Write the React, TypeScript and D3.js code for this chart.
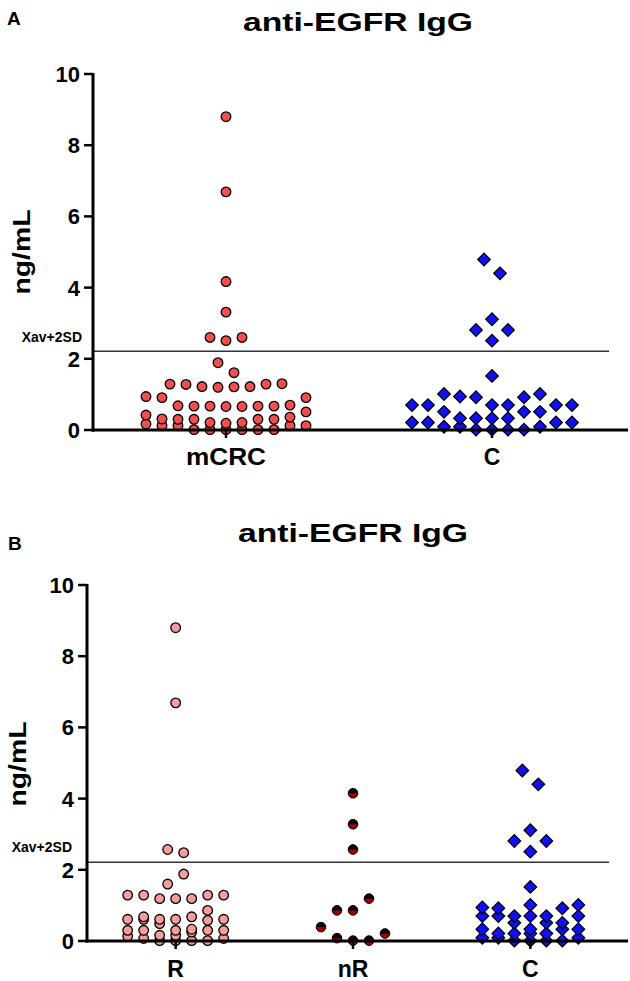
import React from 'react';
import * as d3 from 'd3';

// ---------- data ----------
const titleText = 'anti-EGFR IgG';
const yLabel = 'ng/mL';
const thresholdLabel = 'Xav+2SD';
const thresholdValue = 2.21;
const yTicks = [0, 2, 4, 6, 8, 10];
const panelACategories = ['mCRC', 'C'];
const panelBCategories = ['R', 'nR', 'C'];

const mcrcValues = [
  8.8, 6.69, 4.17, 3.31, 2.6, 2.6, 2.51, 1.89, 1.61,
  1.29, 1.3, 1.28, 1.29, 1.22, 1.21, 1.22, 1.2,
  0.94, 0.91, 0.91,
  0.7, 0.67, 0.66, 0.67, 0.67, 0.66, 0.67, 0.68,
  0.51, 0.42, 0.36,
  0.3, 0.3, 0.3, 0.31, 0.3,
  0.21, 0.21, 0.19, 0.17,
  0.12, 0.12, 0.12, 0.12,
  0.01, 0.01, 0.01, 0.01, 0.01, 0.01,
];

const controlValues = [
  4.79, 4.4, 3.11, 2.81, 2.81, 2.51, 1.52, 1.01, 1.01, 0.94, 0.92, 0.92,
  0.7, 0.7, 0.7, 0.7, 0.7, 0.7,
  0.51, 0.51, 0.51,
  0.33, 0.33, 0.33, 0.33,
  0.21, 0.21, 0.21, 0.21,
  0.09, 0.09, 0.09,
  0.01, 0.01, 0.01, 0.01,
];

const responderValues = [
  8.8, 6.69, 2.57, 2.48, 1.88, 1.6,
  1.29, 1.29, 1.29, 1.29, 1.19, 1.19, 1.19,
  0.86,
  0.68, 0.68, 0.61, 0.61, 0.61, 0.61, 0.61, 0.58,
  0.49,
  0.33, 0.3, 0.3, 0.3, 0.3, 0.3, 0.25,
  0.16, 0.16, 0.13, 0.07, 0.07,
  0.01, 0.01, 0.01, 0.01,
];

const nonResponderValues = [4.15, 3.28, 2.57, 1.19, 0.86, 0.86, 0.39, 0.21, 0.08, 0.01, 0.01];

// ---------- styling ----------
const FONT = "'Liberation Sans', Arial, Helvetica, sans-serif";
const COL_MCRC = '#F24E4E';
const COL_R = '#F59C9C';
const COL_NR = '#A30000';
const COL_C = '#1010F0';

type Kind = 'circle' | 'diamond' | 'half';

interface Placed { v: number; dx: number; py: number }

// GraphPad-like scatter: sorted values are grouped into horizontal rows (limited by
// a pixel height and by how many markers fit in the column width), then spread
// symmetrically with the lowest values of each row nearest the centre.
function swarm(values: number[], y: (v: number) => number, rowPx: number, step: number, maxHalf: number): Placed[] {
  const sorted = [...values].sort((a, b) => a - b);
  const cap = Math.floor((2 * maxHalf) / step) + 1;
  const rows: number[][] = [];
  let startPx = Infinity;
  for (const v of sorted) {
    const py = y(v);
    const cur = rows[rows.length - 1];
    if (!cur || startPx - py > rowPx || cur.length >= cap) { rows.push([v]); startPx = py; }
    else cur.push(v);
  }
  const out: Placed[] = [];
  rows.forEach((b, ri) => {
    const n = b.length;
    const slots = d3.range(n).map(i => (i - (n - 1) / 2) * step);
    const dir = ri % 2 === 0 ? 1 : -1;
    const ordered = [...slots].sort((a, c) => Math.abs(a) - Math.abs(c) || dir * (c - a));
    b.forEach((v, i) => out.push({ v, dx: ordered[i], py: y(v) }));
  });
  return out;
}

interface Group { name: string; values: number[]; kind: Kind; color: string; labelLen?: number }

interface PanelCfg {
  letter: string; letterX: number; letterY: number;
  titleX: number; titleY: number;
  axisX: number; y0: number; y10: number;
  xRange: [number, number]; xEnd: number; threshEnd: number;
  tickLabelX: number; yLabelX: number; yLabelY: number;
  threshLabelX: number; threshLabelY: number; catLabelY: number;
  maxHalf: number;
  groups: Group[];
}

function Marker({ kind, x, y, color }: { kind: Kind; x: number; y: number; color: string }) {
  if (kind === 'diamond') {
    const p = d3.symbol(d3.symbolSquare, 80)();
    return <path d={p || ''} transform={`translate(${x},${y}) rotate(45)`} fill={color} stroke="#000" strokeWidth={1.2} />;
  }
  const r = 4.8;
  if (kind === 'half') {
    return (
      <g transform={`translate(${x},${y})`}>
        <circle r={r} fill={color} />
        <path d={`M ${-r} 0 A ${r} ${r} 0 0 1 ${r} 0 Z`} fill="#000" />
        <circle r={r} fill="none" stroke="#000" strokeWidth={1} />
      </g>
    );
  }
  return <circle cx={x} cy={y} r={r} fill={color} stroke="#000" strokeWidth={1.3} />;
}

function Panel({ cfg }: { cfg: PanelCfg }) {
  const y = d3.scaleLinear().domain([0, 10]).range([cfg.y0, cfg.y10]);
  const x = d3.scalePoint<string>().domain(cfg.groups.map(g => g.name)).range(cfg.xRange).padding(0.5);
  const yT = y(thresholdValue);
  return (
    <g>
      <text x={cfg.letterX} y={cfg.letterY} fontFamily={FONT} fontWeight="bold" fontSize={19}>{cfg.letter}</text>
      <text x={cfg.titleX} y={cfg.titleY} fontFamily={FONT} fontWeight="bold" fontSize={26} textAnchor="middle"
        textLength={230} lengthAdjust="spacingAndGlyphs">{titleText}</text>
      <text transform={`translate(${cfg.yLabelX},${cfg.yLabelY}) rotate(-90)`} fontFamily={FONT} fontWeight="bold"
        fontSize={23} textAnchor="middle" textLength={85} lengthAdjust="spacingAndGlyphs">{yLabel}</text>
      <text x={cfg.threshLabelX} y={cfg.threshLabelY} fontFamily={FONT} fontWeight="bold" fontSize={14}
        textAnchor="end">{thresholdLabel}</text>
      <line x1={cfg.axisX} x2={cfg.threshEnd} y1={yT} y2={yT} stroke="#333" strokeWidth={1.5} />
      <line x1={cfg.axisX} x2={cfg.axisX} y1={y(10) - 1} y2={cfg.y0 + 1.5} stroke="#000" strokeWidth={3} />
      {yTicks.map(t => (
        <g key={t}>
          <line x1={cfg.axisX - 9} x2={cfg.axisX} y1={y(t)} y2={y(t)} stroke="#000" strokeWidth={2.5} />
          <text x={cfg.tickLabelX} y={y(t)} dy="0.36em" fontFamily={FONT} fontWeight="bold" fontSize={22}
            textAnchor="end">{t}</text>
        </g>
      ))}
      {cfg.groups.map(g => {
        const cx = x(g.name) as number;
        const pts = swarm(g.values, y, 14.5, 16, cfg.maxHalf);
        return (
          <g key={g.name}>
            {pts.map((p, i) => <Marker key={i} kind={g.kind} x={cx + p.dx} y={p.py} color={g.color} />)}
          </g>
        );
      })}
      <line x1={cfg.axisX - 1.5} x2={cfg.xEnd} y1={cfg.y0} y2={cfg.y0} stroke="#000" strokeWidth={3} />
      {cfg.groups.map(g => {
        const cx = x(g.name) as number;
        return (
          <g key={g.name}>
            <line x1={cx} x2={cx} y1={cfg.y0} y2={cfg.y0 + 8} stroke="#000" strokeWidth={2.5} />
            <text x={cx} y={cfg.catLabelY} fontFamily={FONT} fontWeight="bold" fontSize={23} textAnchor="middle"
              {...(g.labelLen ? { textLength: g.labelLen, lengthAdjust: 'spacingAndGlyphs' } : {})}>{g.name}</text>
          </g>
        );
      })}
    </g>
  );
}

export default function App() {
  const panelA: PanelCfg = {
    letter: 'A', letterX: 7, letterY: 25, titleX: 358, titleY: 31,
    axisX: 93, y0: 430, y10: 74, xRange: [93, 625], xEnd: 628, threshEnd: 609,
    tickLabelX: 80, yLabelX: 30, yLabelY: 252, threshLabelX: 82, threshLabelY: 342, catLabelY: 465,
    maxHalf: 80,
    groups: [
      { name: panelACategories[0], values: mcrcValues, kind: 'circle', color: COL_MCRC, labelLen: 80 },
      { name: panelACategories[1], values: controlValues, kind: 'diamond', color: COL_C },
    ],
  };
  const panelB: PanelCfg = {
    letter: 'B', letterX: 8, letterY: 550, titleX: 353, titleY: 542,
    axisX: 87, y0: 941, y10: 585, xRange: [87, 619], xEnd: 628, threshEnd: 609,
    tickLabelX: 74, yLabelX: 26, yLabelY: 764, threshLabelX: 72, threshLabelY: 852, catLabelY: 977,
    maxHalf: 48,
    groups: [
      { name: panelBCategories[0], values: responderValues, kind: 'circle', color: COL_R },
      { name: panelBCategories[1], values: nonResponderValues, kind: 'half', color: COL_NR },
      { name: panelBCategories[2], values: controlValues, kind: 'diamond', color: COL_C },
    ],
  };
  return (
    <svg width={630} height={981} style={{ position: 'absolute', left: 0, top: 0, background: '#fff' }}>
      <rect width={630} height={981} fill="#fff" />
      <Panel cfg={panelA} />
      <Panel cfg={panelB} />
    </svg>
  );
}
